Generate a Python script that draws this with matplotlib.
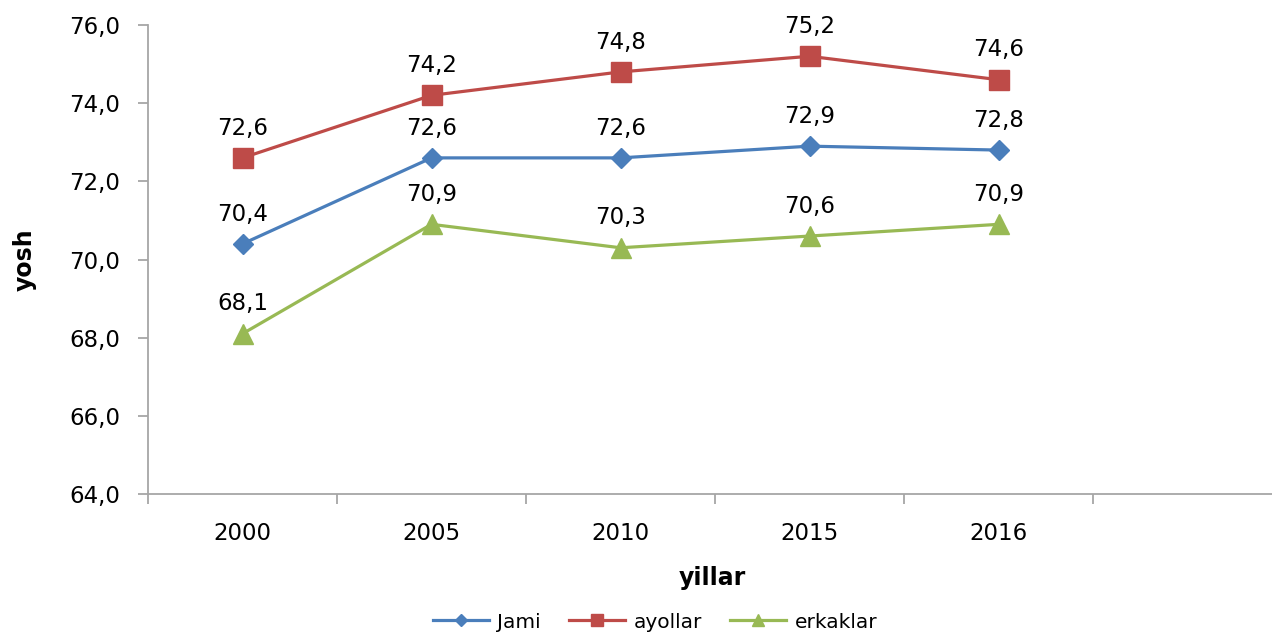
import matplotlib.pyplot as plt

plt.rcParams['font.family'] = ['DejaVu Sans']

# data
years = ["2000", "2005", "2010", "2015", "2016"]
jami = [70.4, 72.6, 72.6, 72.9, 72.8]
ayollar = [72.6, 74.2, 74.8, 75.2, 74.6]
erkaklar = [68.1, 70.9, 70.3, 70.6, 70.9]
y_ticks = [64, 66, 68, 70, 72, 74, 76]

BLUE = "#4A7EBB"
RED = "#BE4B48"
GREEN = "#98B954"
GRAY = "#A6A6A6"

fig = plt.figure(figsize=(12.72, 6.32), dpi=100)
ax = fig.add_axes([148/1272, 1-494/632, 1134/1272, 469/632])

x = list(range(len(years)))

ax.plot(x, jami, color=BLUE, lw=2.3, marker="D", ms=10, label="Jami")
ax.plot(x, ayollar, color=RED, lw=2.3, marker="s", ms=15, label="ayollar")
ax.plot(x, erkaklar, color=GREEN, lw=2.3, marker="^", ms=15, label="erkaklar")

def fmt(v):
    return ("%.1f" % v).replace(".", ",")

for series in (jami, ayollar, erkaklar):
    for xi, v in zip(x, series):
        ax.annotate(fmt(v), (xi, v), xytext=(0, 21.5), textcoords="offset points",
                    ha="center", va="center", fontsize=16.5, color="black")

ax.set_xlim(-0.5, 5.5)
ax.set_ylim(64, 76)
ax.set_yticks(y_ticks)
ax.set_yticklabels([fmt(v) for v in y_ticks], fontsize=16.5)
ax.set_xticks(x)
ax.set_xticklabels(years, fontsize=16.5)
ax.set_xticks([i - 0.5 for i in range(7)], minor=True)
ax.tick_params(axis="x", which="major", length=0, pad=20)
ax.tick_params(axis="x", which="minor", length=7, color=GRAY, width=1.3)
ax.tick_params(axis="y", length=7, color=GRAY, width=1.3, pad=13)

for side in ("top", "right"):
    ax.spines[side].set_visible(False)
for side in ("left", "bottom"):
    ax.spines[side].set_color(GRAY)
    ax.spines[side].set_linewidth(1.3)

fig.text(25/1272, 1-260/632, "yosh", rotation=90, ha="center", va="center",
         fontsize=17, fontweight="bold")
fig.text(712/1272, 1-578/632, "yillar", ha="center", va="center",
         fontsize=17, fontweight="bold")

fig.legend(loc="center", bbox_to_anchor=(655/1272, 1-622/632), ncol=3,
           frameon=False, fontsize=14.5, handlelength=2.8, columnspacing=1.4,
           handletextpad=0.4, markerscale=0.6)

fig.savefig("out.png", dpi=100)
